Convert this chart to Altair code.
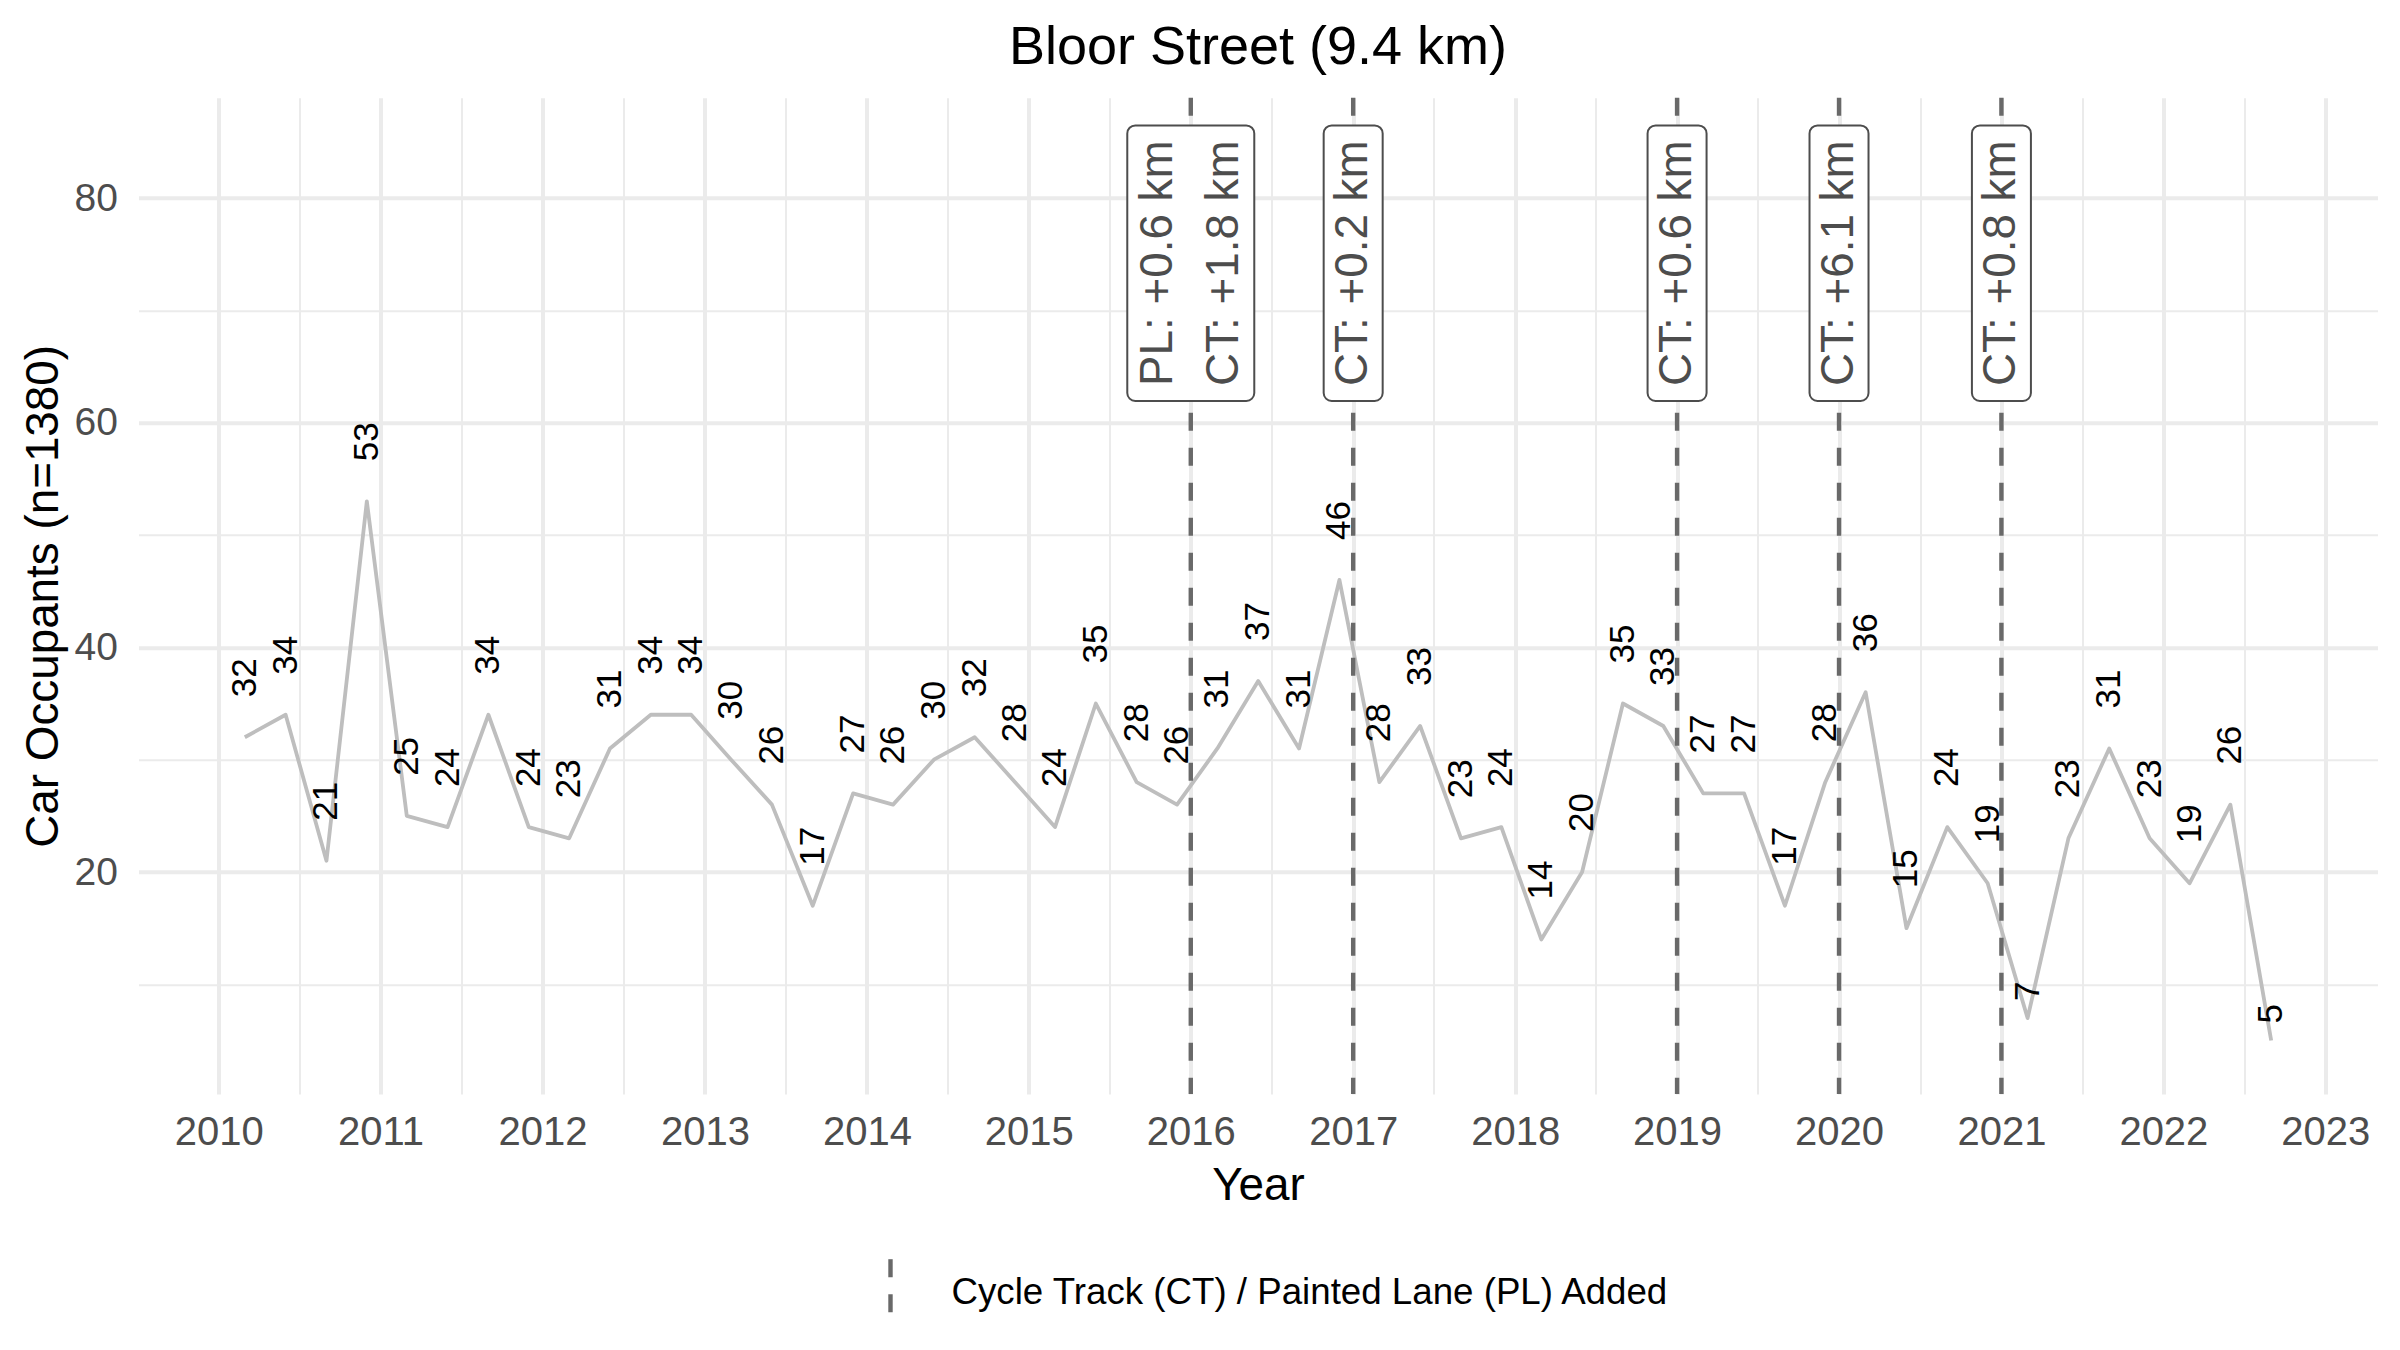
import altair as alt
import pandas as pd

FONT = "Liberation Sans"

# ---- data ----
dates = [
    "2010-03-01", "2010-06-01", "2010-09-01", "2010-12-01",
    "2011-03-01", "2011-06-01", "2011-09-01", "2011-12-01",
    "2012-03-01", "2012-06-01", "2012-09-01", "2012-12-01",
    "2013-03-01", "2013-06-01", "2013-09-01", "2013-12-01",
    "2014-03-01", "2014-06-01", "2014-09-01", "2014-12-01",
    "2015-03-01", "2015-06-01", "2015-09-01", "2015-12-01",
    "2016-03-01", "2016-06-01", "2016-09-01", "2016-12-01",
    "2017-03-01", "2017-06-01", "2017-09-01", "2017-12-01",
    "2018-03-01", "2018-06-01", "2018-09-01", "2018-12-01",
    "2019-03-01", "2019-06-01", "2019-09-01", "2019-12-01",
    "2020-03-01", "2020-06-01", "2020-09-01", "2020-12-01",
    "2021-03-01", "2021-06-01", "2021-09-01", "2021-12-01",
    "2022-03-01", "2022-06-01", "2022-09-01",
]
occupants = [
    32, 34, 21, 53,
    25, 24, 34, 24,
    23, 31, 34, 34,
    30, 26, 17, 27,
    26, 30, 32, 28,
    24, 35, 28, 26,
    31, 37, 31, 46,
    28, 33, 23, 24,
    14, 20, 35, 33,
    27, 27, 17, 28,
    36, 15, 24, 19,
    7, 23, 31, 23,
    19, 26, 5,
]

ann_dates = ["2016-01-01", "2017-01-01", "2019-01-01", "2020-01-01", "2021-01-01"]
ann_labels = ["PL: +0.6 km\nCT: +1.8 km", "CT: +0.2 km", "CT: +0.6 km", "CT: +6.1 km", "CT: +0.8 km"]

legend_label = "Cycle Track (CT) / Painted Lane (PL) Added"
title_text = "Bloor Street (9.4 km)"
x_title = "Year"
y_title = "Car Occupants (n=1380)"

years = list(range(2010, 2024))
mid_years = list(range(2010, 2023))
y_breaks = [10, 20, 30, 40, 50, 60, 70, 80]

df = pd.DataFrame({"date": dates, "occupants": occupants})
ann = pd.DataFrame({"date": ann_dates, "label": ann_labels})

# ---- scales and axes ----
x_values = [alt.DateTime(year=y, month=1, date=1, utc=True) for y in years] + \
           [alt.DateTime(year=y, month=7, date=2, utc=True) for y in mid_years]

x_scale = alt.Scale(
    type="utc",
    domain=[alt.DateTime(year=2009, month=7, date=15, hours=15, minutes=36, utc=True),
            alt.DateTime(year=2023, month=4, date=17, hours=8, minutes=24, utc=True)],
)
y_scale = alt.Scale(domain=[0.24, 88.93], nice=False, zero=False)

W, H = 2239, 996.3

x_axis = alt.Axis(
    values=x_values,
    labelExpr="utcmonth(datum.value) === 0 ? utcFormat(datum.value, '%Y') : ''",
    gridWidth={"condition": {"test": "utcmonth(datum.value) === 0", "value": 4}, "value": 2},
    gridColor="#EBEBEB",
    domain=False, ticks=False,
    labelFont=FONT, labelFontSize=40, labelColor="#4D4D4D", labelPadding=18,
    labelOverlap=False, labelFlush=False, labelBound=False,
    titleFont=FONT, titleFontSize=45.8, titleFontWeight="normal", titleColor="black",
    titleX=W / 2, titleY=91, titleAlign="center", titleBaseline="middle",
)
y_axis = alt.Axis(
    values=y_breaks,
    labelExpr="datum.value % 20 === 0 ? datum.label : ''",
    gridWidth={"condition": {"test": "datum.value % 20 === 0", "value": 4}, "value": 2},
    gridColor="#EBEBEB",
    domain=False, ticks=False,
    labelFont=FONT, labelFontSize=39, labelColor="#4D4D4D", labelPadding=21,
    labelOverlap=False,
    titleFont=FONT, titleFontSize=45.8, titleFontWeight="normal", titleColor="black",
    titleAngle=270, titleX=-95.5, titleY=H / 2, titleAlign="center", titleBaseline="middle",
)

base = alt.Chart(df)

line = base.mark_line(color="#BEBEBE", strokeWidth=3.8, strokeJoin="round").encode(
    x=alt.X("date:T", scale=x_scale, axis=x_axis, title=x_title),
    y=alt.Y("occupants:Q", scale=y_scale, axis=y_axis, title=y_title),
)

rules = alt.Chart(ann).transform_calculate(kind=f"'{legend_label}'").mark_rule(
    color="#696969", strokeWidth=4.4
).encode(
    x=alt.X("date:T"),
    strokeDash=alt.StrokeDash(
        "kind:N",
        scale=alt.Scale(domain=[legend_label], range=[[18, 17]]),
        legend=alt.Legend(
            title=None, orient="none", legendX=716, legendY=1159,
            symbolType="M0,-1L0,1", symbolSize=4489, symbolStrokeWidth=4.4,
            symbolStrokeColor="#696969", symbolFillColor="transparent",
            labelFont=FONT, labelFontSize=36.7, labelColor="black",
            labelOffset=25, labelLimit=2000,
        ),
    ),
)

single = "indexof(datum.label, '\\n') < 0"
double = "indexof(datum.label, '\\n') >= 0"

box_common = dict(fill="white", stroke="#4D4D4D", strokeWidth=2, cornerRadius=8)
box_single = alt.Chart(ann).transform_filter(single).mark_bar(
    size=59, **box_common
).encode(x=alt.X("date:T"), y=alt.datum(86.46), y2=alt.datum(61.93))
box_double = alt.Chart(ann).transform_filter(double).mark_bar(
    size=127, **box_common
).encode(x=alt.X("date:T"), y=alt.datum(86.46), y2=alt.datum(61.93))

text_common = dict(angle=270, align="center", baseline="middle", lineBreak="\n", lineHeight=66,
                   font=FONT, fontSize=45.8, color="#4D4D4D")
ann_text_single = alt.Chart(ann).transform_filter(single).mark_text(**text_common).encode(
    x=alt.X("date:T"), y=alt.datum(74.2), text="label:N")
ann_text_double = alt.Chart(ann).transform_filter(double).mark_text(dy=-33, **text_common).encode(
    x=alt.X("date:T"), y=alt.datum(74.2), text="label:N")

lab_big = base.transform_filter("datum.occupants >= 10").mark_text(
    angle=270, align="left", baseline="middle", dx=40, font=FONT, fontSize=35, color="black"
).encode(x="date:T", y="occupants:Q", text="occupants:Q")
lab_small = base.transform_filter("datum.occupants < 10").mark_text(
    angle=270, align="left", baseline="middle", dx=17, font=FONT, fontSize=35, color="black"
).encode(x="date:T", y="occupants:Q", text="occupants:Q")

chart = alt.layer(
    line, rules, box_single, box_double, ann_text_single, ann_text_double, lab_big, lab_small
).properties(
    width=W, height=H,
    autosize=alt.AutoSizeParams(type="none"),
    padding={"left": 138.5, "top": 97.7, "right": 22.5, "bottom": 256},
    title=alt.Title(title_text, font=FONT, fontSize=54, fontWeight="normal", color="black",
                    anchor="middle", baseline="alphabetic", offset=31, dy=53),
    background="white",
).configure_view(stroke=None)

chart.save("out.html", embed_options={"renderer": "svg", "actions": False})
